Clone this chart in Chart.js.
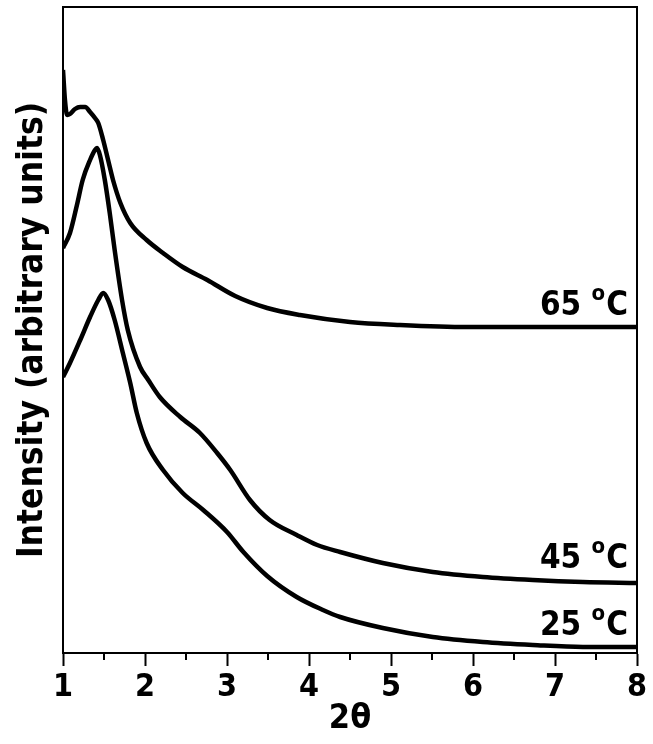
<!DOCTYPE html>
<html>
<head>
<meta charset="utf-8">
<script src="https://cdn.jsdelivr.net/npm/chart.js@4"></script>
<style>
  html, body { margin: 0; padding: 0; background: #fff; }
  #wrap { width: 653px; height: 744px; }
</style>
</head>
<body>
<div id="wrap"><canvas id="xrdChart" width="653" height="744"></canvas></div>
<script>
// values (intensity in arbitrary units)
var x25 = [1.00, 1.085, 1.21, 1.33, 1.43, 1.49, 1.55, 1.63, 1.73, 1.82, 1.90, 2.02, 2.22, 2.46, 2.71, 3.00, 3.20, 3.49, 3.85, 4.17, 4.38, 4.90, 5.51, 6.12, 6.73, 7.34, 8.00];
var y25 = [276, 290, 313, 336, 353, 360, 353, 333, 300, 270, 240, 210, 183, 160, 143, 121, 101, 77, 56, 43, 36, 25, 16, 11, 8, 6, 6];

var x45 = [1.00, 1.085, 1.17, 1.24, 1.33, 1.39, 1.415, 1.45, 1.51, 1.57, 1.63, 1.72, 1.79, 1.94, 2.04, 2.18, 2.43, 2.67, 2.88, 3.04, 3.28, 3.52, 3.85, 4.10, 4.38, 4.90, 5.51, 6.12, 6.73, 7.34, 8.00];
var y45 = [405, 420, 448, 473, 493, 503, 505, 498, 473, 440, 403, 353, 323, 286, 273, 256, 236, 220, 200, 183, 153, 133, 118, 108, 101, 90, 81, 76, 73, 71, 70];

var x65 = [1.00, 1.024, 1.05, 1.085, 1.146, 1.21, 1.27, 1.33, 1.39, 1.43, 1.49, 1.55, 1.61, 1.70, 1.82, 2.02, 2.22, 2.46, 2.76, 3.10, 3.49, 3.89, 4.50, 5.11, 5.93, 6.94, 8.00];
var y65 = [583, 553, 538, 539, 544, 546, 546, 541, 535, 530, 513, 493, 473, 450, 430, 413, 400, 386, 373, 357, 345, 338, 331, 328, 326, 326, 326];

var curveNames = ['25 \u00b0C', '45 \u00b0C', '65 \u00b0C'];
var curveTemps = ['25', '45', '65'];
var labelX = [7.89, 7.89, 7.89];
var labelY = [18, 85, 338];

var xTicks = [1, 2, 3, 4, 5, 6, 7, 8];

var fontFam = '"Liberation Sans Narrow", "DejaVu Sans Condensed", "Liberation Sans", sans-serif';

function pts(xs, ys) {
    return xs.map(function(v, i) { return { x: v, y: ys[i] }; });
}

var frameAndLabels = {
    id: 'frameAndLabels',
    afterDraw: function(chart) {
        var c = chart.ctx, a = chart.chartArea;
        var xs = chart.scales.x, ys = chart.scales.y;
        c.save();
        // box around plot
        c.strokeStyle = '#000';
        c.lineWidth = 2;
        c.strokeRect(a.left, a.top, a.right - a.left, a.bottom - a.top);
        // minor ticks at half steps
        c.beginPath();
        for (var v = 1.5; v < 8; v += 1) {
            var px = xs.getPixelForValue(v);
            c.moveTo(px, a.bottom);
            c.lineTo(px, a.bottom + 7);
        }
        c.stroke();
        // temperature labels
        c.fillStyle = '#000';
        c.textBaseline = 'alphabetic';
        for (var i = 0; i < curveTemps.length; i++) {
            var rx = xs.getPixelForValue(labelX[i]);
            var by = ys.getPixelForValue(labelY[i]);
            var big = 'bold 33px ' + fontFam, small = 'bold 22px ' + fontFam;
            c.font = big;
            var w1 = c.measureText(curveTemps[i] + ' ').width;
            var w3 = c.measureText('C').width;
            c.font = small;
            var w2 = c.measureText('o').width + 1;
            var x0 = rx - (w1 + w2 + w3);
            c.font = big;
            c.fillText(curveTemps[i] + ' ', x0, by);
            c.font = small;
            c.fillText('o', x0 + w1, by - 15);
            c.font = big;
            c.fillText('C', x0 + w1 + w2, by);
        }
        c.restore();
    }
};

var lineStyle = {
    borderColor: '#000',
    borderWidth: 4.5,
    pointRadius: 0,
    fill: false,
    cubicInterpolationMode: 'monotone'
};

var ctx = document.getElementById('xrdChart').getContext('2d');
var myChart = new Chart(ctx, {
    type: 'line',
    data: {
        datasets: [
            Object.assign({ label: curveNames[0], data: pts(x25, y25) }, lineStyle),
            Object.assign({ label: curveNames[1], data: pts(x45, y45) }, lineStyle),
            Object.assign({ label: curveNames[2], data: pts(x65, y65) }, lineStyle)
        ]
    },
    options: {
        responsive: false,
        animation: false,
        layout: { padding: { top: 7, right: 16, left: 0, bottom: 0 } },
        plugins: {
            legend: { display: false },
            tooltip: { enabled: false }
        },
        scales: {
            x: {
                type: 'linear',
                min: 1,
                max: 8,
                afterBuildTicks: function(s) {
                    s.ticks = xTicks.map(function(v) { return { value: v }; });
                },
                afterFit: function(s) { s.height = 91; },
                grid: {
                    drawOnChartArea: false,
                    drawTicks: true,
                    tickLength: 13,
                    tickWidth: 2,
                    color: '#000'
                },
                border: { display: true, color: '#000', width: 2 },
                ticks: {
                    color: '#000',
                    padding: 2,
                    maxRotation: 0,
                    font: { family: fontFam, size: 32, weight: 'bold' }
                },
                title: {
                    display: true,
                    text: '2\u03b8',
                    color: '#000',
                    padding: { top: 0, bottom: 4 },
                    font: { family: fontFam, size: 34, weight: 'bold' }
                }
            },
            y: {
                min: 0,
                max: 646,
                afterFit: function(s) { s.width = 63; },
                grid: { display: false },
                border: { display: true, color: '#000', width: 2 },
                ticks: { display: false },
                title: {
                    display: true,
                    text: 'Intensity (arbitrary units)',
                    color: '#000',
                    padding: { top: 12, bottom: 0 },
                    font: { family: fontFam, size: 35, weight: 'bold' }
                }
            }
        }
    },
    plugins: [frameAndLabels]
});
</script>
</body>
</html>
